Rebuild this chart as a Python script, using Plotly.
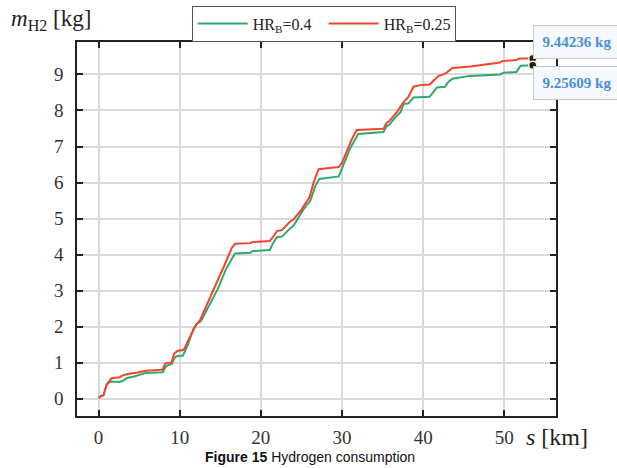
import plotly.graph_objects as go

# Cumulative hydrogen mass along the route for two hybridisation ratios
s_hr025 = [0, 0.3, 0.6, 1.0, 1.6, 2.6, 3.0, 3.6, 4.4, 4.8, 5.8, 7.9, 8.2, 8.5, 9.0,
           9.3, 9.7, 10.5, 11.0, 11.7, 12.0, 12.5, 13.3, 14.5, 15.5, 16.4, 16.8,
           18.7, 19.0, 21.1, 21.5, 22.0, 22.6, 23.2, 23.6, 24.0, 25.0, 26.0, 26.5,
           27.1, 29.6, 30.0, 30.6, 31.2, 31.8, 35.1, 35.5, 35.8, 36.8, 37.6, 38.2,
           38.8, 39.8, 40.8, 41.9, 42.5, 42.9, 43.6, 45.8, 49.5, 49.7, 51.5, 51.8,
           53.5]
m_hr025 = [0.02, 0.08, 0.10, 0.40, 0.57, 0.60, 0.65, 0.69, 0.72, 0.73, 0.78, 0.81,
           0.98, 1.00, 1.00, 1.25, 1.33, 1.36, 1.60, 1.93, 2.05, 2.18, 2.60, 3.20,
           3.70, 4.18, 4.30, 4.32, 4.35, 4.38, 4.49, 4.66, 4.68, 4.83, 4.92, 4.97,
           5.25, 5.60, 6.00, 6.37, 6.43, 6.55, 6.90, 7.20, 7.46, 7.49, 7.66, 7.70,
           7.97, 8.24, 8.38, 8.66, 8.71, 8.72, 8.96, 9.00, 9.05, 9.18, 9.22, 9.33,
           9.37, 9.40, 9.44, 9.44236]

s_hr04 = [0, 0.3, 0.6, 1.0, 1.5, 2.6, 3.0, 3.5, 4.4, 4.8, 5.8, 7.9, 8.3, 8.5, 9.0,
          9.4, 9.6, 10.4, 11.0, 11.7, 12.1, 12.6, 13.5, 14.7, 15.7, 16.8, 18.7,
          19.0, 21.1, 21.5, 22.0, 22.6, 23.3, 23.9, 24.1, 25.2, 26.1, 26.7, 27.2,
          29.6, 30.2, 31.0, 32.0, 35.1, 35.5, 35.8, 36.8, 37.2, 37.6, 38.2, 38.8,
          40.8, 41.7, 42.7, 43.1, 43.6, 45.8, 49.5, 49.9, 51.5, 52.0, 53.5]
m_hr04 = [0.02, 0.08, 0.10, 0.40, 0.48, 0.47, 0.50, 0.58, 0.62, 0.65, 0.72, 0.74,
          0.90, 0.93, 0.96, 1.15, 1.18, 1.20, 1.50, 1.95, 2.08, 2.15, 2.55, 3.05,
          3.60, 4.03, 4.05, 4.10, 4.13, 4.32, 4.49, 4.50, 4.66, 4.81, 4.83, 5.24,
          5.50, 5.90, 6.10, 6.17, 6.50, 6.95, 7.35, 7.40, 7.57, 7.60, 7.87, 7.95,
          8.18, 8.20, 8.36, 8.38, 8.64, 8.66, 8.79, 8.88, 8.96, 9.00, 9.05, 9.07,
          9.24, 9.25609]

x_ticks = [0, 10, 20, 30, 40, 50]
y_ticks = [0, 1, 2, 3, 4, 5, 6, 7, 8, 9]

GREEN = "#2eaa6c"
RED = "#f1462c"
SERIF = "Times New Roman"
LABEL_BLUE = "#4a8fd3"

fig = go.Figure()
fig.add_trace(go.Scatter(x=s_hr04, y=m_hr04, mode="lines", name="HR<sub>B</sub>=0.4",
                         line=dict(color=GREEN, width=2)))
fig.add_trace(go.Scatter(x=s_hr025, y=m_hr025, mode="lines", name="HR<sub>B</sub>=0.25",
                         line=dict(color=RED, width=2)))

# End-point markers
fig.add_trace(go.Scatter(x=[s_hr025[-1], s_hr04[-1]], y=[m_hr025[-1], m_hr04[-1]],
                         mode="markers", showlegend=False,
                         marker=dict(color="#1e1e1e", size=8,
                                     line=dict(color="#f3efc8", width=1.5))))

tick_font = dict(family=SERIF, size=19, color="#333333")
axis_common = dict(showline=True, linecolor="#222222", linewidth=1.5, mirror="ticks",
                   ticks="inside", ticklen=6, tickwidth=1.5, tickcolor="#222222",
                   showgrid=True, gridcolor="#dadada", gridwidth=1.5, zeroline=False)

fig.update_xaxes(range=[-2.66, 56.37], tickvals=x_ticks, ticklabelstandoff=3,
                 tickfont=tick_font, **axis_common)
fig.update_yaxes(range=[-0.476, 9.90], tickvals=y_ticks, ticklabelstandoff=8,
                 tickfont=tick_font, **axis_common)

# End-value labels
for val, ypos in [(m_hr025[-1], 1.0008), (m_hr04[-1], 0.8905)]:
    fig.add_annotation(xref="paper", yref="paper", x=1.044, y=ypos, xanchor="center",
                       yanchor="middle", text=f"<b>{val:.5f} kg</b>", showarrow=False,
                       font=dict(family=SERIF, size=15, color=LABEL_BLUE),
                       bgcolor="#f5f8fc", bordercolor="#c4c8cc", borderwidth=1,
                       width=84, height=30)

fig.add_annotation(xref="paper", yref="paper", x=-0.143, y=1.06, xanchor="left",
                   yanchor="middle", showarrow=False,
                   text="<i>m</i><sub>H2</sub> [kg]",
                   font=dict(family=SERIF, size=23, color="#222222"))
fig.add_annotation(xref="paper", yref="paper", x=0.933, y=-0.055, xanchor="left",
                   yanchor="middle", showarrow=False, text="<i>s</i> [km]",
                   font=dict(family=SERIF, size=24, color="#222222"))
fig.add_annotation(xref="paper", yref="paper", x=0.487, y=-0.11, xanchor="center",
                   yanchor="middle", showarrow=False,
                   text="<b>Figure 15</b> Hydrogen consumption",
                   font=dict(family="Arial", size=14, color="#111111"))

fig.update_layout(
    width=617, height=468,
    font=dict(family=SERIF),
    margin=dict(l=77, r=61, t=42, b=52, autoexpand=False),
    plot_bgcolor="white", paper_bgcolor="white",
    legend=dict(orientation="h", x=0.515, y=1.049, xanchor="center", yanchor="middle",
                bgcolor="white", bordercolor="#555555", borderwidth=1,
                font=dict(family=SERIF, size=16, color="#222222"),
                entrywidth=66, itemwidth=50),
)

fig.write_html("out.html")
